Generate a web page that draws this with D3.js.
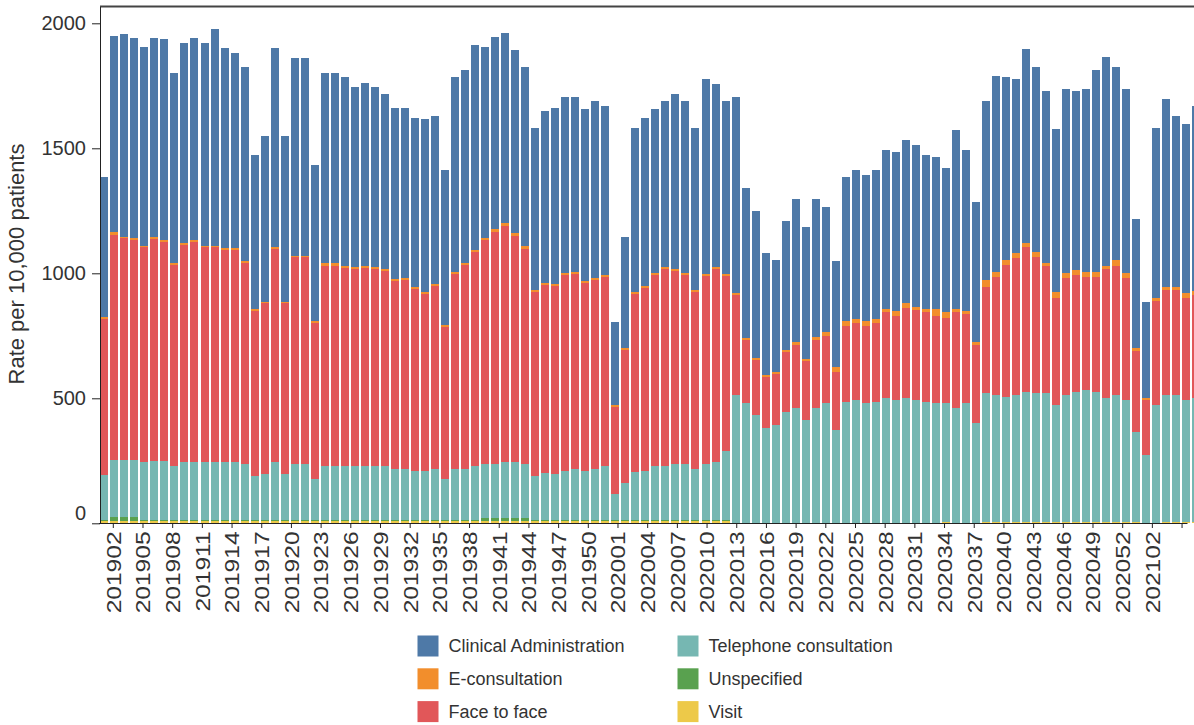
<!DOCTYPE html>
<html>
<head>
<meta charset="utf-8" />
<title>Consultation rates per week</title>
<script src="https://d3js.org/d3.v7.min.js"></script>
<style>
  body { margin: 0; background: #ffffff; }
  svg text { font-family: "Liberation Sans", Arial, sans-serif; fill: #333; }
</style>
</head>
<body>

<svg id="viz" width="1194" height="725"></svg>

<script>

// weeks (year + week number)
var weeks = [
  "201901","201902","201903","201904","201905","201906","201907","201908","201909","201910",
  "201911","201912","201913","201914","201915","201916","201917","201918","201919","201920",
  "201921","201922","201923","201924","201925","201926","201927","201928","201929","201930",
  "201931","201932","201933","201934","201935","201936","201937","201938","201939","201940",
  "201941","201942","201943","201944","201945","201946","201947","201948","201949","201950",
  "201951","201952",
  "202001","202002","202003","202004","202005","202006","202007","202008","202009","202010",
  "202011","202012","202013","202014","202015","202016","202017","202018","202019","202020",
  "202021","202022","202023","202024","202025","202026","202027","202028","202029","202030",
  "202031","202032","202033","202034","202035","202036","202037","202038","202039","202040",
  "202041","202042","202043","202044","202045","202046","202047","202048","202049","202050",
  "202051","202052","202053",
  "202101","202102","202103","202104","202105"
];

// every third week gets a tick
var tickWeeks = [
  "201902","201905","201908","201911","201914","201917","201920","201923","201926","201929",
  "201932","201935","201938","201941","201944","201947","201950",
  "202001","202004","202007","202010","202013","202016","202019","202022","202025","202028",
  "202031","202034","202037","202040","202043","202046","202049","202052",
  "202102","202105"
];
var unlabelledTick = "202105";

var yTicks = [0, 500, 1000, 1500, 2000];

// rate per 10,000 patients, one value per week
var visit = [
  10,10,10,10,10,10,10,10,10,10, 10,10,10,10,10,10,10,10,10,10,
  10,10,10,10,10,10,10,10,10,10, 10,10,10,10,10,10,10,10,10,10,
  10,10,10,10,10,10,10,10,10,10, 10,10,10,10,10,10,10,10,10,10,
  10,10,10,1,1,1,1,1,1,1, 1,1,1,1,1,1,1,1,1,1,
  1,1,1,1,5,1,1,1,4,4, 4,4,4,4,4,4,4,4,4,4,
  4,4,4,4,1,1,4,4,4,4
];

var unspecified = [
  4,14,14,14,4,4,4,4,4,4, 4,4,4,4,4,4,4,4,4,4,
  4,4,4,4,4,4,4,4,4,4, 4,4,4,4,4,4,4,4,12,12,
  12,12,12,4,4,4,4,4,4,4, 4,4,4,4,4,4,4,4,4,4,
  4,4,4,2,2,2,2,2,2,2, 2,2,2,2,2,2,2,2,2,2,
  2,2,2,2,2,2,2,2,2,2, 2,2,2,2,2,2,2,2,2,2,
  2,2,2,2,2,2,2,2,2,2
];

var telephone = [
  179,229,229,229,233,237,237,217,230,230, 230,230,230,230,223,175,182,230,182,223,
  223,162,217,217,217,217,217,217,217,203, 203,197,197,203,162,203,203,217,215,215,
  222,222,215,175,189,183,197,203,197,203, 217,102,149,190,197,217,217,223,223,203,
  223,230,277,510,477,430,377,390,444,457, 410,457,477,370,483,490,477,483,500,490,
  500,490,483,477,473,457,477,397,514,507, 498,507,520,514,514,467,507,520,527,520,
  497,507,487,360,270,470,507,507,487,494
];

var faceToFace = [
  625,900,887,880,857,887,875,802,869,880, 860,860,849,849,803,661,684,852,684,827,
  827,627,800,800,791,786,791,786,778,752, 755,727,707,732,610,781,817,853,895,928,
  946,907,862,737,749,752,781,781,751,757, 754,350,530,714,730,761,785,771,755,708,
  752,772,698,399,252,221,205,203,240,252, 237,275,270,232,304,307,310,314,343,335,
  359,359,360,350,342,386,358,312,426,473, 529,548,580,546,509,427,467,467,451,460,
  513,516,487,324,220,417,420,420,407,415
];

var eConsultation = [
  8,13,6,7,6,6,7,9,9,9, 5,5,7,7,9,6,6,8,6,6,
  6,6,9,9,7,7,7,7,7,7, 8,8,8,8,7,8,8,9,10,11,
  12,11,10,7,8,8,8,8,8,8, 8,7,7,8,8,8,8,8,8,8,
  8,8,8,8,8,8,8,8,6,15, 7,9,17,19,20,17,20,17,12,22,
  18,12,12,26,24,12,12,12,27,20, 20,19,16,20,11,26,20,20,22,20,
  13,24,20,10,9,10,13,13,20,15
];

var clinicalAdmin = [
  559,784,810,803,797,799,803,758,801,810, 814,868,800,783,778,619,662,796,662,790,
  790,626,760,760,757,720,731,720,700,687, 683,677,690,673,619,779,770,821,765,771,
  759,732,716,649,690,706,704,698,687,708, 677,333,447,656,674,657,666,701,690,649,
  781,734,693,784,603,586,487,449,517,570, 527,553,497,425,576,596,583,596,635,636,
  653,649,615,610,574,715,643,560,717,784, 731,697,776,739,690,650,737,717,731,806,
  835,772,737,517,384,682,750,683,676,739
];

// legend order, and stack order from the bottom up
var legendKeys = ["Clinical Administration", "E-consultation", "Face to face",
                  "Telephone consultation", "Unspecified", "Visit"];
var stackKeys = legendKeys.slice().reverse();

var table = weeks.map(function(w, i) {
  return {
    week: w,
    "Visit": visit[i],
    "Unspecified": unspecified[i],
    "Telephone consultation": telephone[i],
    "Face to face": faceToFace[i],
    "E-consultation": eConsultation[i],
    "Clinical Administration": clinicalAdmin[i]
  };
});

var svg = d3.select("#viz");

var color = d3.scaleOrdinal()
  .domain(legendKeys)
  .range(d3.schemeTableau10);

var x = d3.scaleBand()
  .domain(weeks)
  .range([99.3, 1201.5])
  .paddingInner(0.2)
  .paddingOuter(0.1);

// the tick labels in the source sit on a slightly tighter step than the bars
var xTicks = x.copy().range([98.46, 1187]);

var y = d3.scaleLinear()
  .domain([0, 2067.2])
  .range([523.3, 6.5]);

var series = d3.stack().keys(stackKeys)(table);

//bars
svg.append("g")
  .selectAll("g")
  .data(series)
  .join("g")
    .attr("fill", function(d) { return color(d.key); })
  .selectAll("rect")
  .data(function(d) { return d; })
  .join("rect")
    .attr("shape-rendering", "crispEdges")
    .attr("x", function(d) { return x(d.data.week); })
    .attr("width", x.bandwidth())
    .attr("y", function(d) { return y(d[1]); })
    .attr("height", function(d) { return y(d[0]) - y(d[1]); });

//top frame line
svg.append("line")
  .attr("x1", 100).attr("x2", 1194)
  .attr("y1", 6.5).attr("y2", 6.5)
  .attr("stroke", "#444")
  .attr("stroke-width", 2);

//y axis
var yAxis = svg.append("g")
  .attr("transform", "translate(100,0)")
  .attr("color", "#222")
  .call(d3.axisLeft(y).tickValues(yTicks).tickFormat(d3.format("d"))
    .tickSize(8).tickSizeOuter(0).tickPadding(6));
yAxis.selectAll("text")
  .style("font-size", "20px")
  .attr("y", function(d) { return d === 0 ? -10 : 0; });

//x axis
var xAxis = svg.append("g")
  .attr("transform", "translate(0,523)")
  .attr("color", "#222")
  .call(d3.axisBottom(xTicks).tickValues(tickWeeks).tickSize(5).tickSizeOuter(0)
    .tickFormat(function(d) { return d === unlabelledTick ? "" : d; }));
xAxis.selectAll("text")
  .attr("transform", "rotate(-90) scale(1.17,1)")
  .attr("text-anchor", "end")
  .attr("x", -7.2)
  .attr("y", 0)
  .attr("dy", "0.35em")
  .style("font-size", "21px");

//y axis title
svg.append("text")
  .attr("transform", "translate(24,264) rotate(-90)")
  .attr("text-anchor", "middle")
  .style("font-size", "22px")
  .text("Rate per 10,000 patients");

//legend, two columns of three
var legend = svg.append("g")
  .selectAll("g")
  .data(legendKeys)
  .join("g")
    .attr("transform", function(d, i) {
      var col = Math.floor(i / 3), row = i % 3;
      return "translate(" + (417.5 + col * 260) + "," + (646 + row * 32.8) + ")";
    });

legend.append("rect")
  .attr("x", 0).attr("y", -10.5)
  .attr("width", 21).attr("height", 21)
  .attr("fill", function(d) { return color(d); });

legend.append("text")
  .attr("x", 31)
  .attr("dy", "0.35em")
  .style("font-size", "18px")
  .text(function(d) { return d; });

</script>
</body>
</html>
